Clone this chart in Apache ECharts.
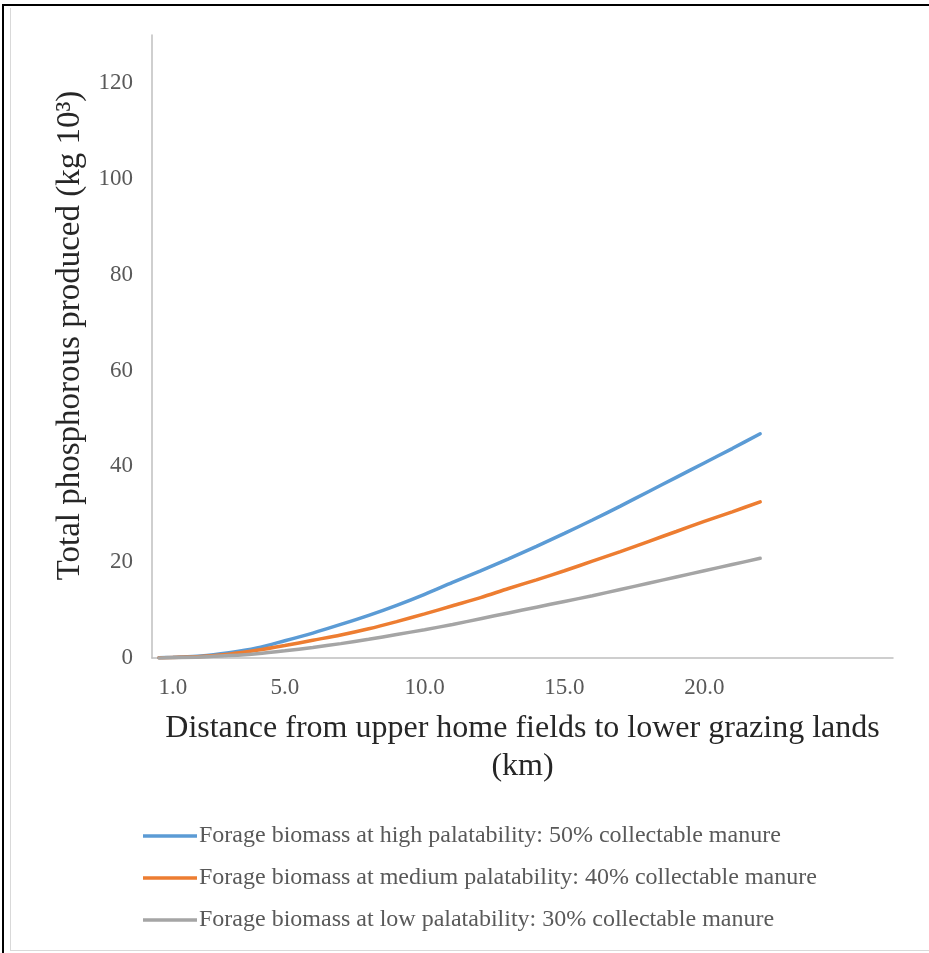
<!DOCTYPE html>
<html>
<head>
<meta charset="utf-8">
<script src="https://cdn.jsdelivr.net/npm/echarts@6/dist/echarts.min.js"></script>
<style>
  html, body { margin: 0; padding: 0; background: #fff; }
  #frameOuter { position: absolute; left: 2px; top: 4px; width: 927px; height: 949px; border-top: 2px solid #000; border-left: 2px solid #000; box-sizing: border-box; }
  #frameInner { position: absolute; left: 10px; top: 8px; width: 919px; height: 943px; border-left: 1px solid #d9d9d9; border-bottom: 1px solid #d9d9d9; box-sizing: border-box; }
  #chart { position: absolute; left: 0; top: 0; width: 929px; height: 953px; }
</style>
</head>
<body>
<div id="frameOuter"></div>
<div id="frameInner"></div>
<div id="chart"></div>
<script>
// Distance (km)
const distance = [0.5, 1, 2, 3, 4, 5, 6, 7, 8, 9, 10, 11, 12, 13, 14, 15, 16, 17, 18, 19, 20, 21, 22];
// Total phosphorous produced (kg 10^3)
const highPalatability   = [0.05, 0.15, 0.4, 1.1, 2.1, 3.6, 5.2, 7.0, 8.9, 11.0, 13.3, 15.8, 18.2, 20.7, 23.3, 26.0, 28.8, 31.7, 34.7, 37.7, 40.7, 43.7, 46.8];
const mediumPalatability = [0.05, 0.1, 0.3, 0.8, 1.6, 2.6, 3.7, 4.8, 6.1, 7.6, 9.2, 10.9, 12.6, 14.5, 16.3, 18.2, 20.2, 22.2, 24.3, 26.4, 28.5, 30.5, 32.6];
const lowPalatability    = [0.02, 0.05, 0.2, 0.5, 0.9, 1.5, 2.2, 3.0, 3.9, 4.9, 5.9, 7.0, 8.2, 9.4, 10.6, 11.8, 13.0, 14.3, 15.6, 16.9, 18.2, 19.5, 20.8];

const seriesNames = [
  'Forage biomass at high palatability: 50% collectable manure',
  'Forage biomass at medium palatability: 40% collectable manure',
  'Forage biomass at low palatability: 30% collectable manure'
];
const xTickValues = [1, 5, 10, 15, 20];
const xTickLabels = ['1.0', '5.0', '10.0', '15.0', '20.0'];
const yTickValues = [0, 20, 40, 60, 80, 100, 120];

const colors = ['#5B9BD5', '#ED7D31', '#A5A5A5'];
const FONT = '"Liberation Serif", "Times New Roman", serif';

function pairs(ys) { return distance.map((x, i) => [x, ys[i]]); }

const chart = echarts.init(document.getElementById('chart'), null, { renderer: 'canvas' });
chart.setOption({
  backgroundColor: 'transparent',
  animation: false,
  color: colors,
  textStyle: { fontFamily: FONT },
  grid: { left: 152, right: 36, top: 35, bottom: 295, containLabel: false },
  xAxis: {
    type: 'value',
    min: 0.25,
    max: 26.75,
    name: 'Distance from upper home fields to lower grazing lands\n(km)',
    nameLocation: 'middle',
    nameGap: 52,
    nameTextStyle: { fontFamily: FONT, fontSize: 32, color: '#262626', lineHeight: 38, verticalAlign: 'top' },
    axisLine: { show: true, lineStyle: { color: '#BFBFBF', width: 1.5 } },
    axisTick: { show: false },
    splitLine: { show: false },
    axisLabel: {
      customValues: xTickValues,
      formatter: v => xTickLabels[xTickValues.indexOf(v)] ?? '',
      fontFamily: FONT, fontSize: 23, color: '#595959', margin: 18
    }
  },
  yAxis: {
    type: 'value',
    min: 0,
    max: 130,
    interval: 20,
    name: 'Total phosphorous produced (kg 10³)',
    nameLocation: 'middle',
    nameGap: 65,
    nameRotate: 90,
    nameTextStyle: { fontFamily: FONT, fontSize: 33, color: '#262626', padding: [0, 0, 0, 22] },
    axisLine: { show: true, lineStyle: { color: '#BFBFBF', width: 1.5 } },
    axisTick: { show: false },
    splitLine: { show: false },
    axisLabel: {
      customValues: yTickValues,
      formatter: v => String(v),
      fontFamily: FONT, fontSize: 23, color: '#595959', margin: 19
    }
  },
  legend: {
    orient: 'vertical',
    left: 138,
    top: 819,
    itemGap: 18,
    itemWidth: 54,
    itemHeight: 3.5,
    icon: 'rect',
    textStyle: { fontFamily: FONT, fontSize: 24, color: '#595959', padding: [0, 0, 0, -3] },
    data: seriesNames
  },
  series: [highPalatability, mediumPalatability, lowPalatability].map((ys, i) => ({
    name: seriesNames[i],
    type: 'line',
    data: pairs(ys),
    smooth: 0.3,
    showSymbol: false,
    symbol: 'none',
    lineStyle: { width: 3.5, color: colors[i], cap: 'round' },
    itemStyle: { color: colors[i] }
  }))
});
</script>
</body>
</html>
